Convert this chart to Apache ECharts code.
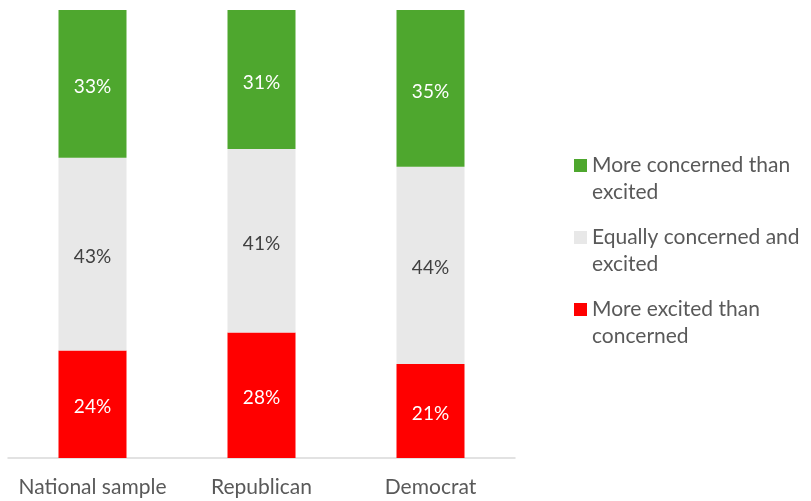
<!DOCTYPE html>
<html>
<head>
<meta charset="utf-8">
<script src="https://cdn.jsdelivr.net/npm/echarts@6/dist/echarts.min.js"></script>
<style>
  html, body { margin: 0; padding: 0; background: #fff; }
  #chart { width: 811px; height: 501px; }
</style>
</head>
<body>
<div id="chart"></div>
<script>
// Groups along the x axis
const categories = ['National sample', 'Republican', 'Democrat'];

// Share of respondents (%) for each attitude, per group
const excitedShare = [24, 28, 21];
const equallyShare = [43, 41, 44];
const concernedShare = [33, 31, 35];

// Series names (bottom to top of each stacked bar)
const seriesNames = [
  'More excited than concerned',
  'Equally concerned and excited',
  'More concerned than excited'
];

// Wrapped legend text
const legendText = {
  'More concerned than excited': 'More concerned than\nexcited',
  'Equally concerned and excited': 'Equally concerned and\nexcited',
  'More excited than concerned': 'More excited than\nconcerned'
};

const FONT = 'Lato';

// Square swatch sitting at the top of a taller (invisible) box, so that it
// lines up with the first line of the two-line legend text.
const SWATCH = 'path://M0 0H13V13H0Z M0 40L0.001 40';

function barSeries(name, values, color, labelColor) {
  return {
    name: name,
    type: 'bar',
    stack: 'total',
    barWidth: 68,
    data: values,
    itemStyle: { color: color },
    label: {
      show: true,
      position: 'inside',
      offset: [0, 3],
      formatter: '{c}%',
      color: labelColor,
      fontFamily: FONT,
      fontSize: 19
    },
    emphasis: { disabled: true }
  };
}

const chart = echarts.init(document.getElementById('chart'));
chart.setOption({
  animation: false,
  grid: { left: 8, right: 296, top: 10, bottom: 43, containLabel: false },
  legend: {
    orient: 'vertical',
    left: 569,
    top: 147,
    data: [seriesNames[2], seriesNames[1], seriesNames[0]],
    icon: SWATCH,
    itemWidth: 13,
    itemHeight: 40,
    itemGap: 18,
    formatter: name => legendText[name],
    textStyle: {
      color: '#595959',
      fontFamily: FONT,
      fontSize: 21,
      lineHeight: 27
    }
  },
  xAxis: {
    type: 'category',
    data: categories,
    axisLine: { lineStyle: { color: '#d9d9d9', width: 1.5 } },
    axisTick: { show: false },
    axisLabel: {
      interval: 0,
      color: '#595959',
      fontFamily: FONT,
      fontSize: 21,
      margin: 19
    }
  },
  yAxis: {
    type: 'value',
    min: 0,
    max: 100,
    show: false,
    splitLine: { show: false }
  },
  series: [
    barSeries(seriesNames[0], excitedShare, '#ff0000', '#ffffff'),
    barSeries(seriesNames[1], equallyShare, '#e8e8e8', '#404040'),
    barSeries(seriesNames[2], concernedShare, '#4ea72e', '#ffffff')
  ]
});
</script>
</body>
</html>
